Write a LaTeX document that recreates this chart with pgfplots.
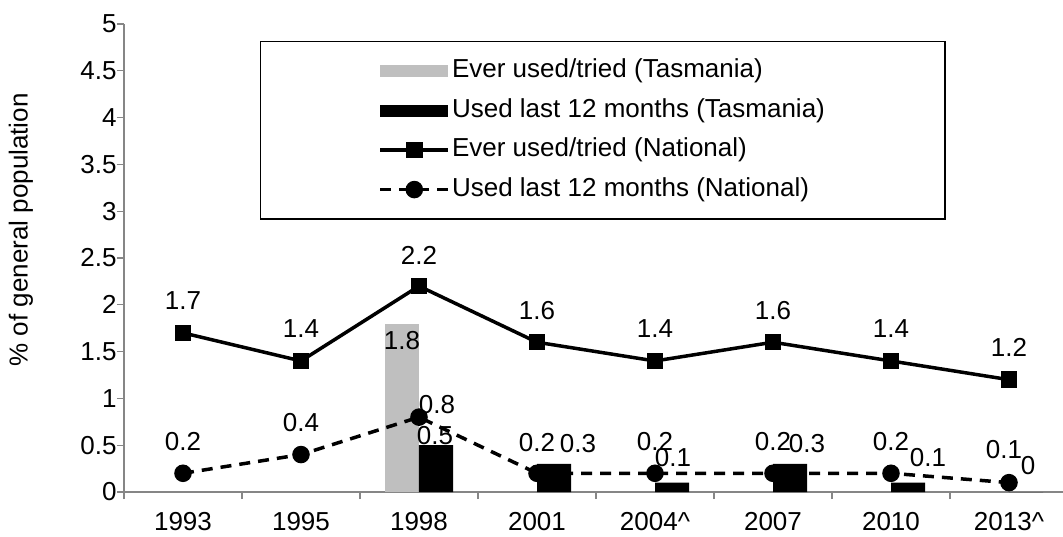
\documentclass[border=0pt]{standalone}
\usepackage{fontspec}
\setmainfont{Liberation Sans}
\usepackage{pgfplots}
\usepackage{pgfplotstable}
\pgfplotsset{compat=1.18}
\definecolor{axgray}{RGB}{134,134,134}
\definecolor{bargray}{RGB}{191,191,191}

% x = category index (0 = 1993 ... 7 = 2013^), dx/dy = label offset in pt
\pgfplotstableread{
x y dx dy
2 1.8 -17 -17
}\tasever
\pgfplotstableread{
x y dx dy
2 0.5 16 10
3 0.3 41 20
4 0.1 18 25
5 0.3 34 20
6 0.1 37 25
7 0 19 26
}\taslast
\pgfplotstableread{
x y dx dy
0 1.7 0 32
1 1.4 0 32
2 2.2 0 31
3 1.6 0 32
4 1.4 0 32
5 1.6 0 32
6 1.4 0 32
7 1.2 0 32
}\natever
\pgfplotstableread{
x y dx dy
0 0.2 0 32
1 0.4 0 32
2 0.8 18 13
3 0.2 0 31
4 0.2 0 32
5 0.2 0 32
6 0.2 0 32
7 0.1 -5 33
}\natlast

\begin{document}
\begin{tikzpicture}[font=\fontsize{26}{30}\selectfont]
\path[use as bounding box] (-124pt,-44pt) rectangle (939pt,492pt);
\begin{axis}[
  at={(0pt,0pt)}, anchor=south west,
  x=118pt, y=93.6pt,
  xmin=-0.5, xmax=7.458, ymin=0, ymax=5,
  clip=false,
  axis x line*=bottom, axis y line*=left,
  axis line style={axgray, line width=1.2pt},
  tick style={axgray, line width=1.2pt},
  tick align=outside,
  major tick length=7pt, minor tick length=7pt,
  xtick={0,...,7},
  xticklabels={1993,1995,1998,2001,2004\textasciicircum,2007,2010,2013\textasciicircum},
  xticklabel style={yshift=-10pt},
  major x tick style={draw=none},
  minor xtick={-0.5,0.5,...,6.5},
  ytick={0,0.5,...,5},
  /pgf/number format/assume math mode=true,
  yticklabel style={xshift=3pt},
  ylabel={\% of general population},
  every axis y label/.style={at={(axis cs:-1.373,2.8)}, anchor=center, rotate=90},
  legend cell align=left,
  legend style={at={(rel axis cs:0.1448,0.9637)}, anchor=north west,
    draw=black, line width=1.2pt, fill=white,
    inner xsep=118pt, inner ysep=15pt, row sep=10.5pt,
    nodes={line width=0.4pt, text height=19pt, text depth=6pt, inner sep=2pt}},
  nodes near coords,
  visualization depends on={\thisrow{dx} \as \dx},
  visualization depends on={\thisrow{dy} \as \dy},
  every node near coord/.append style={anchor=center, xshift=\dx pt, yshift=\dy pt, text=black},
]
\addplot[ybar, bar width=34pt, bar shift=-17pt, fill=bargray, draw=none,
  legend image code/.code={\fill (0pt,-6pt) rectangle (68pt,6pt);}]
  table[x=x, y=y] {\tasever};
\addlegendentry{Ever used/tried (Tasmania)}
\addplot[ybar, bar width=34pt, bar shift=17pt, fill=black, draw=none,
  legend image code/.code={\fill (0pt,-6pt) rectangle (68pt,6pt);}]
  table[x=x, y=y] {\taslast};
\addlegendentry{Used last 12 months (Tasmania)}
\addplot[black, line width=3.5pt, mark=square*, mark size=6.5pt,
  mark options={solid},
  legend image code/.code={\draw[mark repeat=2, mark phase=2] plot coordinates {(0pt,0pt) (34pt,0pt) (68pt,0pt)};}]
  table[x=x, y=y] {\natever};
\addlegendentry{Ever used/tried (National)}
\addplot[black, line width=3.5pt, dash pattern=on 11pt off 8pt, mark=*, mark size=7pt,
  mark options={solid},
  legend image code/.code={\draw[mark repeat=2, mark phase=2] plot coordinates {(0pt,0pt) (34pt,0pt) (68pt,0pt)};}]
  table[x=x, y=y] {\natlast};
\addlegendentry{Used last 12 months (National)}
\end{axis}
\end{tikzpicture}
\end{document}
